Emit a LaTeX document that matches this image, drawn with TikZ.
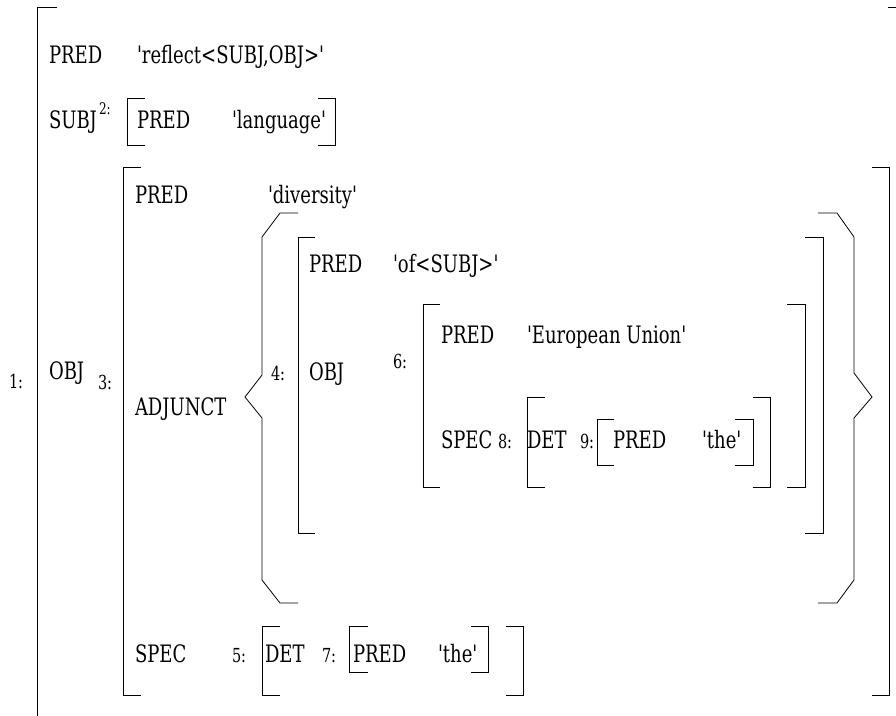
\documentclass[tikz,border=0pt]{standalone}
\usepackage{fontspec}
\setmainfont{DejaVu Serif}[FakeStretch=0.75,Ligatures=TeXOff]
\tikzset{
  px/.style={x=0.75pt,y=-0.75pt},
  lab/.style={anchor=base west,inner sep=0pt,outer sep=0pt,font=\fontsize{18}{20}\selectfont},
  num/.style={anchor=base west,inner sep=0pt,outer sep=0pt,font=\fontsize{14.5}{16}\selectfont},
  sup/.style={anchor=base west,inner sep=0pt,outer sep=0pt,font=\fontsize{12}{13}\selectfont},
  brk/.style={draw=black,line width=0.6pt}
}
\newcommand\avmL[4]{\draw[brk] (#1+#4,#2) -- (#1,#2) -- (#1,#3) -- (#1+#4,#3);}
\newcommand\avmR[4]{\draw[brk] (#1-#4,#2) -- (#1,#2) -- (#1,#3) -- (#1-#4,#3);}
\begin{document}
\begin{tikzpicture}[px]
\useasboundingbox (0,0) rectangle (896,715);
% outer f-structure 1
\avmL{37}{7}{760}{20}
\avmR{906}{7}{760}{18}
\node[num] (n1) at (9,388) {1:};
\node[lab] (p1) at (49,63) {PRED};
\node[lab] (v1) at (137,63) {'reflect<SUBJ,OBJ>'};
\node[lab] (subj) at (49,128) {SUBJ};
\node[sup] (n2) at (99,114) {2:};
\avmL{127}{98}{145}{18}
\avmR{335}{98}{145}{17}
\node[lab] (p2) at (137,128) {PRED};
\node[lab] (v2) at (232,128) {'language'};
\node[lab] (obj1) at (49,379) {OBJ};
\node[num] (n3) at (98,389) {3:};
% f-structure 3
\avmL{123}{167}{695}{18}
\avmR{889}{167}{695}{17}
\node[lab] (p3) at (135,203) {PRED};
\node[lab] (v3) at (268,203) {'diversity'};
\node[lab] (adj) at (135,415) {ADJUNCT};
% set braces
\draw[brk] (298,213) -- (280,213) -- (262,237) -- (262,375) -- (245,397) -- (262,418) -- (262,580) -- (280,603) -- (298,603);
\draw[brk] (818,213) -- (837,213) -- (854,237) -- (854,373) -- (872,397) -- (854,418) -- (854,580) -- (837,603) -- (818,603);
\node[num] (n4) at (271,380) {4:};
% f-structure 4
\avmL{298}{237}{533}{17}
\avmR{823}{237}{533}{18}
\node[lab] (p4) at (309,272) {PRED};
\node[lab] (v4) at (393,272) {'of<SUBJ>'};
\node[lab] (obj4) at (309,380) {OBJ};
\node[num] (n6) at (393,368) {6:};
% f-structure 6
\avmL{423}{304}{487}{17}
\avmR{805}{304}{487}{18}
\node[lab] (p6) at (441,343) {PRED};
\node[lab] (v6) at (527,343) {'European Union'};
\node[lab] (spec6) at (441,448) {SPEC};
\node[num] (n8) at (498,448) {8:};
% f-structure 8
\avmL{527}{397}{487}{18}
\avmR{770}{397}{487}{17}
\node[lab] (det8) at (527,448) {DET};
\node[num] (n9) at (580,448) {9:};
% f-structure 9
\avmL{597}{419}{465}{17}
\avmR{753}{419}{465}{18}
\node[lab] (p9) at (613,448) {PRED};
\node[lab] (v9) at (702,448) {'the'};
% SPEC of 3
\node[lab] (spec3) at (135,662) {SPEC};
\node[num] (n5) at (232,662) {5:};
\avmL{262}{626}{695}{18}
\avmR{523}{626}{695}{17}
\node[lab] (det5) at (265,662) {DET};
\node[num] (n7) at (322,662) {7:};
\avmL{349}{626}{672}{19}
\avmR{488}{626}{672}{17}
\node[lab] (p7) at (353,662) {PRED};
\node[lab] (v7) at (438,662) {'the'};
\end{tikzpicture}
\end{document}
